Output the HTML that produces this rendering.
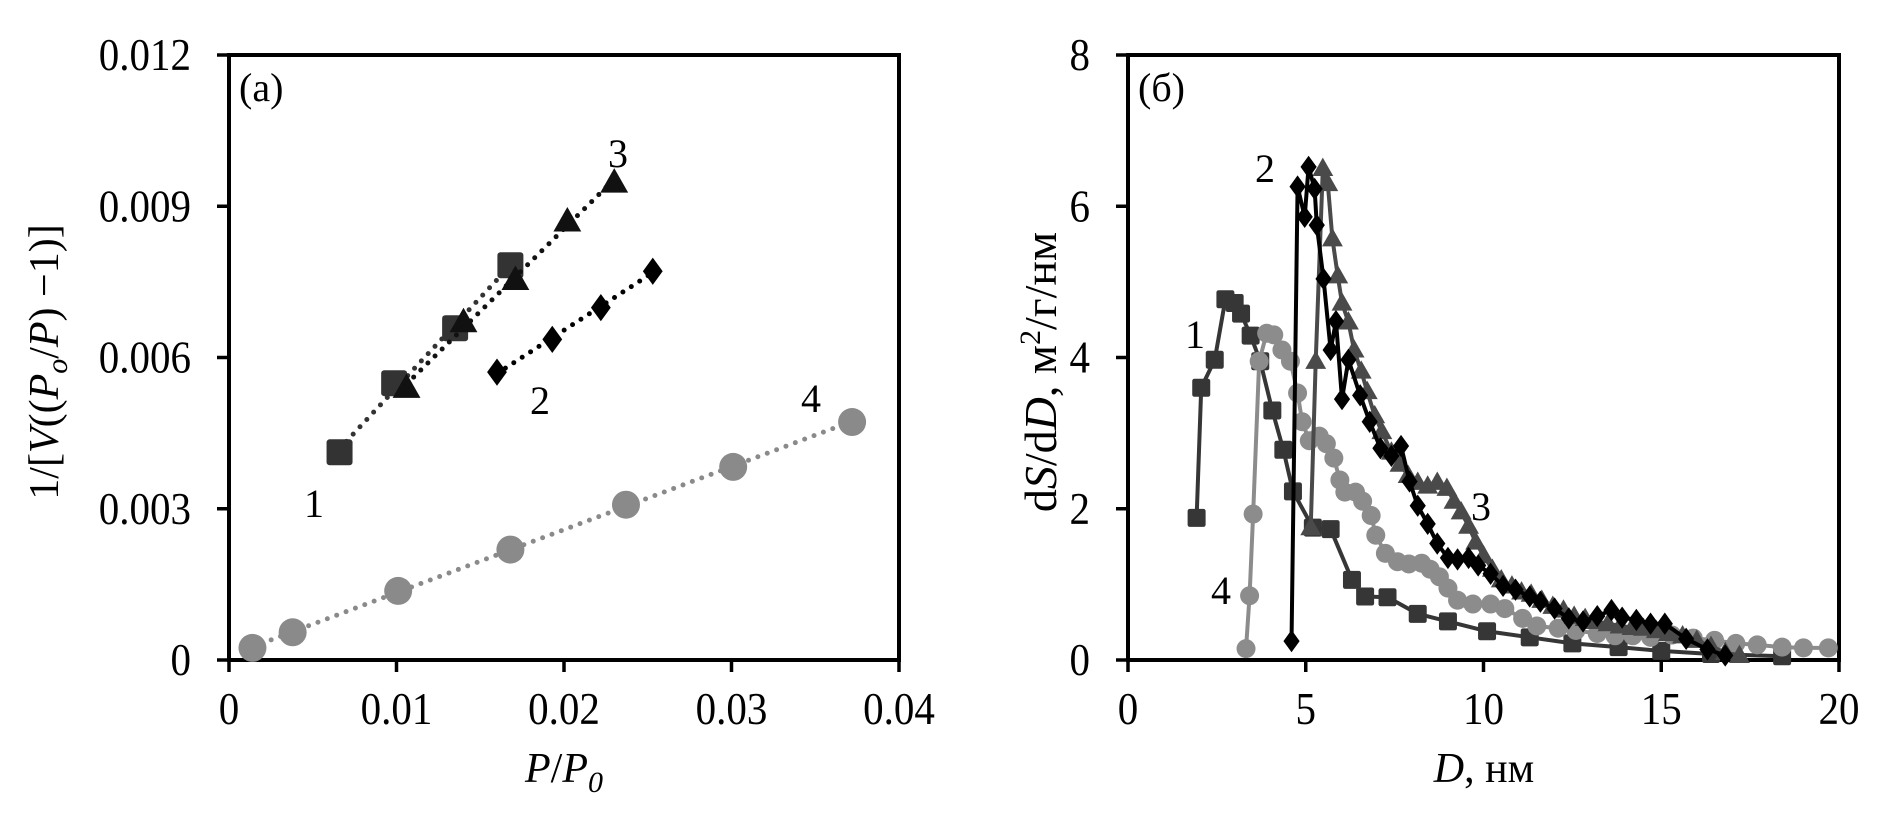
<!DOCTYPE html>
<html><head><meta charset="utf-8"><style>
html,body{margin:0;padding:0;background:#fff;}
svg{display:block;font-family:"Liberation Serif","DejaVu Serif",serif;}
</style></head><body>
<svg id="fig" width="1897" height="820" viewBox="0 0 1897 820"></svg>
<script>
// ---- Chart (a) data ----
const aX1=[0.0066,0.00986,0.0135,0.0168];
const aY1=[0.00412,0.00549,0.00658,0.00783];
const aX2=[0.016,0.0193,0.0222,0.0253];
const aY2=[0.00571,0.00636,0.00699,0.00771];
const aX3=[0.0106,0.014,0.0171,0.0202,0.023];
const aY3=[0.0054,0.0067,0.00754,0.0087,0.00947];
const aX4=[0.0014,0.0038,0.0101,0.0168,0.0237,0.0301,0.0372];
const aY4=[0.00024,0.00055,0.00137,0.00219,0.00308,0.00383,0.00472];
const aXTicks=[0,0.01,0.02,0.03,0.04];
const aXTickLabels=["0","0.01","0.02","0.03","0.04"];
const aYTicks=[0,0.003,0.006,0.009,0.012];
const aYTickLabels=["0","0.003","0.006","0.009","0.012"];
// ---- Chart (б) data ----
const bX1=[1.93,2.06,2.44,2.74,3.0,3.18,3.45,3.72,4.06,4.37,4.64,5.2,5.7,6.3,6.67,7.3,8.15,9.0,10.1,11.3,12.5,13.8,15.0,16.4,18.4];
const bY1=[1.88,3.6,3.97,4.77,4.72,4.58,4.29,3.95,3.3,2.78,2.23,1.75,1.73,1.06,0.84,0.83,0.61,0.51,0.38,0.30,0.22,0.17,0.12,0.08,0.05];
const bX2=[4.6,4.77,4.97,5.08,5.25,5.31,5.5,5.7,5.85,6.02,6.2,6.53,6.8,7.1,7.41,7.68,7.92,8.15,8.43,8.7,9.0,9.27,9.58,9.85,10.2,10.55,10.9,11.3,11.6,12.0,12.4,12.8,13.2,13.6,13.9,14.3,14.7,15.1,15.7,16.3,16.8];
const bY2=[0.25,6.26,5.86,6.52,6.23,5.75,5.04,4.1,4.48,3.45,3.97,3.5,3.15,2.8,2.7,2.83,2.36,2.04,1.8,1.54,1.35,1.33,1.35,1.25,1.14,0.98,0.93,0.84,0.77,0.68,0.55,0.51,0.58,0.66,0.56,0.53,0.48,0.48,0.28,0.14,0.06];
const bX3=[5.14,5.28,5.48,5.62,5.75,5.9,6.02,6.2,6.36,6.56,6.73,6.94,7.14,7.41,7.65,7.88,8.15,8.43,8.7,8.97,9.17,9.37,9.58,9.78,10.0,10.25,10.5,10.8,11.07,11.34,11.64,11.95,12.25,12.55,12.86,13.16,13.5,13.84,14.18,14.5,14.86,15.2,15.6,16.0,16.4,16.8,17.2];
const bY3=[1.75,3.95,6.5,6.3,5.57,5.08,4.72,4.47,4.1,3.82,3.55,3.23,3.02,2.75,2.59,2.44,2.35,2.3,2.35,2.27,2.1,1.96,1.77,1.56,1.38,1.2,1.06,0.98,0.9,0.87,0.79,0.71,0.66,0.58,0.55,0.51,0.48,0.45,0.43,0.42,0.39,0.35,0.32,0.26,0.18,0.1,0.06];
const bX4=[3.32,3.42,3.52,3.69,3.9,4.1,4.33,4.57,4.77,4.9,5.1,5.38,5.58,5.79,5.96,6.1,6.4,6.6,6.84,6.97,7.24,7.58,7.9,8.26,8.5,8.76,9.0,9.27,9.7,10.2,10.6,11.1,11.5,12.1,12.6,13.2,13.7,14.2,14.7,15.3,15.9,16.5,17.1,17.7,18.4,19.0,19.7];
const bY4=[0.15,0.85,1.93,3.95,4.32,4.3,4.1,3.95,3.53,3.15,2.9,2.96,2.86,2.67,2.38,2.22,2.22,2.1,1.91,1.65,1.41,1.3,1.27,1.28,1.2,1.1,0.95,0.79,0.74,0.74,0.68,0.55,0.45,0.42,0.39,0.35,0.32,0.32,0.3,0.33,0.29,0.26,0.22,0.2,0.17,0.16,0.16];
const bXTicks=[0,5,10,15,20];
const bXTickLabels=["0","5","10","15","20"];
const bYTicks=[0,2,4,6,8];
const bYTickLabels=["0","2","4","6","8"];

const NS="http://www.w3.org/2000/svg";
const svg=document.getElementById('fig');
function mk(tag,attrs,parent){const e=document.createElementNS(NS,tag);for(const k in attrs)e.setAttribute(k,attrs[k]);(parent||svg).appendChild(e);return e;}

const TOP=55,BOT=660;
const A={x0:229,x1:899,xmax:0.04,ymax:0.012};
const B={x0:1128,x1:1839,xmax:20,ymax:8};
function sx(P,v){return P.x0+v/P.xmax*(P.x1-P.x0);}
function sy(P,v){return BOT-v/P.ymax*(BOT-TOP);}

function marker(g,shape,cx,cy,s,color){
  let e;
  if(shape==='square'){e=mk('rect',{x:cx-s/2,y:cy-s/2,width:s,height:s,rx:s*0.12,fill:color},g);}
  else if(shape==='circle'){e=mk('circle',{cx:cx,cy:cy,r:s/2,fill:color},g);}
  else if(shape==='triangle'){e=mk('polygon',{points:`${cx},${cy-s*0.6} ${cx+s*0.58},${cy+s*0.42} ${cx-s*0.58},${cy+s*0.42}`,fill:color},g);}
  else {e=mk('polygon',{points:`${cx},${cy-s*0.62} ${cx+s*0.45},${cy} ${cx},${cy+s*0.62} ${cx-s*0.45},${cy}`,fill:color},g);}
  return e;
}

function axes(P,xt,xl,yt,yl,name,tag){
  const g=mk('g',{});
  
  
  mk('rect',{x:P.x0,y:TOP,width:P.x1-P.x0,height:BOT-TOP,fill:'none',stroke:'#000','stroke-width':4},g);
  xt.forEach((t,i)=>{
    const x=sx(P,t);
    mk('line',{x1:x,y1:BOT,x2:x,y2:BOT+12,stroke:'#000','stroke-width':3.5},g);
    const tx=mk('text',{x:0,y:0,'font-size':41,'text-anchor':'middle',fill:'#000',transform:`translate(${x},724) scale(1,1.12)`},g);
    tx.textContent=xl[i];
    
    
  });
  yt.forEach((t,i)=>{
    const y=sy(P,t);
    mk('line',{x1:P.x0-12,y1:y,x2:P.x0,y2:y,stroke:'#000','stroke-width':3.5},g);
    const tx=mk('text',{x:0,y:0,'font-size':41,'text-anchor':'end',fill:'#000',transform:`translate(${P.x0-38},${y+15}) scale(1,1.12)`},g);
    tx.textContent=yl[i];
    
    
  });
  const tg=mk('text',{x:P.x0+10,y:101,'font-size':40,fill:'#000'},g);
  tg.textContent=tag;
  
  
}

// Chart a
axes(A,aXTicks,aXTickLabels,aYTicks,aYTickLabels,'chart-a','(a)');
{
  const t=mk('text',{x:564,y:782,'font-size':42,'text-anchor':'middle'});
  t.innerHTML='<tspan font-style="italic">P</tspan>/<tspan font-style="italic">P</tspan><tspan font-style="italic" font-size="30" dy="10">0</tspan>';
  
  
  const y=mk('text',{x:0,y:0,'font-size':42,'text-anchor':'middle',transform:'translate(58,362) rotate(-90)'});
  y.innerHTML='1/[<tspan font-style="italic">V</tspan>((<tspan font-style="italic">P</tspan><tspan font-style="italic" font-size="30" dy="9">o</tspan><tspan dy="-9">/</tspan><tspan font-style="italic">P</tspan>) −1)]';
  
  
}
function fitLine(P,xs,ys,color,name){
  const n=xs.length;let mx=0,my=0;xs.forEach((v,i)=>{mx+=v;my+=ys[i];});mx/=n;my/=n;
  let num=0,den=0;xs.forEach((v,i)=>{num+=(v-mx)*(ys[i]-my);den+=(v-mx)*(v-mx);});
  const k=num/den,b=my-k*mx;const xa=Math.min(...xs),xb=Math.max(...xs);
  const l=mk('line',{x1:sx(P,xa),y1:sy(P,k*xa+b),x2:sx(P,xb),y2:sy(P,k*xb+b),stroke:color,'stroke-width':5,'stroke-dasharray':'0 10','stroke-linecap':'round'});
  
  
}
const aSeries=[[aX4,aY4,'circle','#8a8a8a',28,'a-series-4'],[aX1,aY1,'square','#333',26,'a-series-1'],[aX2,aY2,'diamond','#000',22,'a-series-2'],[aX3,aY3,'triangle','#111',24,'a-series-3']];
aSeries.forEach(([xs,ys,sh,c,s,name])=>{
  fitLine(A,xs,ys,c,name+'-fit');
  const g=mk('g',{});
  
  
  xs.forEach((v,i)=>{
    const m=marker(g,sh,sx(A,v),sy(A,ys[i]),s,c);
    
    
  });
});

// Chart b
axes(B,bXTicks,bXTickLabels,bYTicks,bYTickLabels,'chart-b','(б)');
{
  const t=mk('text',{x:1484,y:782,'font-size':42,'text-anchor':'middle'});
  t.innerHTML='<tspan font-style="italic">D</tspan>, нм';
  
  
  const y=mk('text',{x:0,y:0,'font-size':46,'text-anchor':'middle',transform:'translate(1056,372) rotate(-90)'});
  y.innerHTML='d<tspan font-style="italic">S</tspan>/d<tspan font-style="italic">D</tspan>, м<tspan font-size="30" dy="-16">2</tspan><tspan dy="16">/г/нм</tspan>';
  
  
}
const bSeries=[[bX1,bY1,'square','#363636',18,'b-series-1'],[bX4,bY4,'circle','#8c8c8c',19,'b-series-4'],[bX3,bY3,'triangle','#4a4a4a',18,'b-series-3'],[bX2,bY2,'diamond','#000',18,'b-series-2']];
bSeries.forEach(([xs,ys,sh,c,s,name])=>{
  const g=mk('g',{});
  
  
  mk('polyline',{points:xs.map((v,i)=>sx(B,v)+','+sy(B,ys[i])).join(' '),fill:'none',stroke:c,'stroke-width':4,'stroke-linejoin':'round'},g);
  xs.forEach((v,i)=>{
    const m=marker(g,sh,sx(B,v),sy(B,ys[i]),s,c);
    
    
  });
});

// series number labels
[[618,167,'3','a-label-3'],[540,414,'2','a-label-2'],[314,517,'1','a-label-1'],[811,412,'4','a-label-4'],
 [1265,182,'2','b-label-2'],[1195,348,'1','b-label-1'],[1481,520,'3','b-label-3'],[1221,604,'4','b-label-4']].forEach(([x,y,s,n])=>{
  const t=mk('text',{x:x,y:y,'font-size':40,'text-anchor':'middle'});
  t.textContent=s;
  
  
});
</script>
</body></html>
